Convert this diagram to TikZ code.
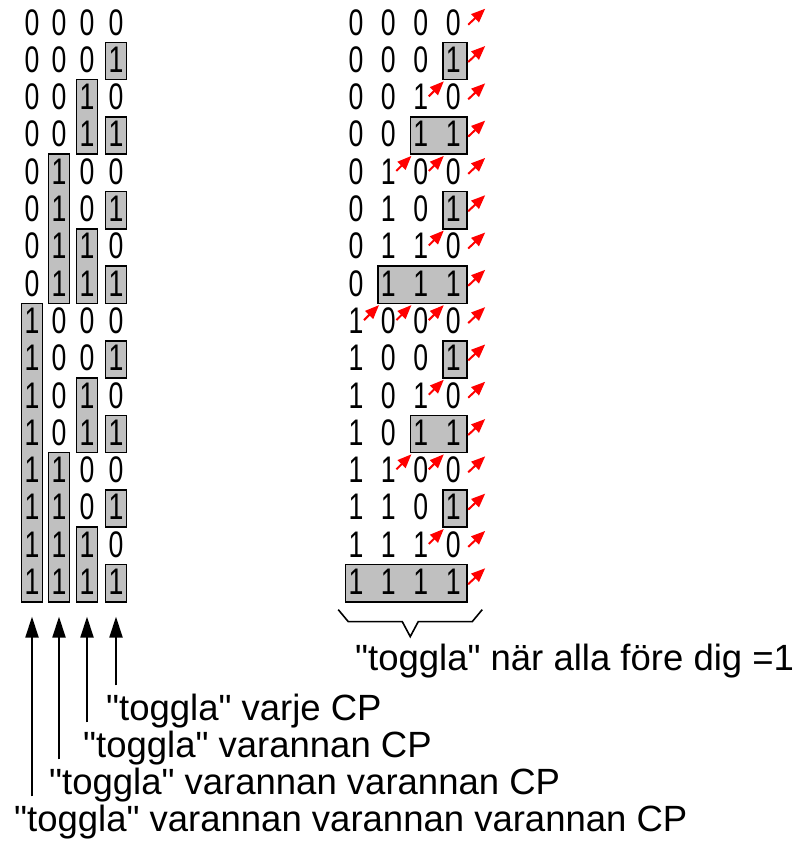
\documentclass[tikz,border=0pt]{standalone}
\usepackage{fontspec}
\setmainfont{Liberation Sans}
\newfontfamily\digitfont[FakeStretch=0.72]{Liberation Sans}
\usetikzlibrary{arrows.meta}
\definecolor{boxgray}{RGB}{192,192,192}
\definecolor{tickred}{RGB}{255,0,0}
\newcommand\tq{\textquotedbl}

\begin{document}
\begin{tikzpicture}[
    x=1pt, y=-1pt,
    bitbox/.style={
        rectangle,
        draw=black,
        line width=1.6pt,
        fill=boxgray,
        inner sep=0pt
    },
    bit/.style={
        inner sep=0pt,
        anchor=base,
        font=\digitfont\fontsize{37}{40}\selectfont
    },
    togglecap/.style={
        inner sep=0pt,
        anchor=base west,
        font=\fontsize{36.5}{40}\selectfont
    },
    upline/.style={
        -{Triangle[width=13pt,length=21pt]},
        line width=2pt
    },
    redtick/.style={
        -{Triangle[width=11pt,length=14pt]},
        line width=2pt,
        tickred
    },
    braceline/.style={
        line width=1.6pt
    }
]
\useasboundingbox (0,0) rectangle (805,847);

% Left table: boxes around the runs of ones in each column
\foreach \c/\lx/\n in {0/32/8,1/59/4,2/87/2,3/116/1}{
    \pgfmathtruncatemacro\kmax{8/\n-1}
    \pgfmathsetmacro\h{37.3*\n}
    \foreach \k in {0,...,\kmax}{
        \pgfmathsetmacro\cy{5+37.3*(2*\k+1)*\n+\h/2}
        \node[bitbox, minimum width=21pt, minimum height=\h pt] (lbox-\c-\k) at (\lx,\cy) {};
    }
}

% Left table: digits
\foreach \r in {0,...,15}{
    \pgfmathsetmacro\cy{23.65+37.3*\r}
    \foreach \c/\lx in {0/32,1/59,2/87,3/116}{
        \pgfmathtruncatemacro\b{mod(floor(\r/2^(3-\c)),2)}
        \node[bit] (L-\r-\c) at (\lx,\cy+11.35) {\b};
    }
}

% Right table: boxes around the trailing ones
\foreach \r/\t in {1/1,3/2,5/1,7/3,9/1,11/2,13/1,15/4}{
    \pgfmathsetmacro\xl{356+32.4*(4-\t)-10.5}
    \pgfmathsetmacro\w{467-\xl}
    \pgfmathsetmacro\cy{23.65+37.3*\r}
    \node[bitbox, minimum width=\w pt, minimum height=37.3pt] (rbox-\r) at ({(467+\xl)/2},\cy) {};
}

% Right table: digits and red toggle marks
\foreach \r in {0,...,15}{
    \pgfmathsetmacro\cy{23.65+37.3*\r}
    \foreach \c in {0,...,3}{
        \pgfmathsetmacro\rx{356+32.4*\c}
        \pgfmathtruncatemacro\b{mod(floor(\r/2^(3-\c)),2)}
        \node[bit] (R-\r-\c) at (\rx,\cy+11.35) {\b};
        \pgfmathtruncatemacro\n{2^(3-\c)}
        \pgfmathtruncatemacro\hit{(mod(\r,\n)==0) && ((\r>0) || (\c==3))}
        \ifnum\hit=1
            \ifnum\c=3
                \draw[redtick] ([shift={(15,-10.3)}]R-\r-\c.base) -- ++(17,-16);
            \else
                \draw[redtick] ([shift={(8,-13.3)}]R-\r-\c.base) -- ++(15,-15);
            \fi
        \fi
    }
}

% Brace under the last row
\draw[braceline] ([shift={(-68,7)}]rbox-15.south) -- ++(10,12) -- ++(54,0)
    -- ++(8,15) -- ++(8,-15) -- ++(54,0) -- ++(10,-12);

\node[togglecap] (note) at (355,670) {\tq toggla\tq\ när alla före dig =1};

% Captions under the left table
\node[togglecap] (cap3) at (106,720) {\tq toggla\tq\ varje CP};
\node[togglecap] (cap2) at (83,757) {\tq toggla\tq\ varannan CP};
\node[togglecap] (cap1) at (49,794) {\tq toggla\tq\ varannan varannan CP};
\node[togglecap] (cap0) at (14,831) {\tq toggla\tq\ varannan varannan varannan CP};

\draw[upline, shorten <=8pt, shorten >=14pt] (cap3.north -| lbox-3-7) -- (lbox-3-7.south);
\draw[upline, shorten <=8pt, shorten >=14pt] (cap2.north -| lbox-2-3) -- (lbox-2-3.south);
\draw[upline, shorten <=8pt, shorten >=14pt] (cap1.north -| lbox-1-1) -- (lbox-1-1.south);
\draw[upline, shorten <=8pt, shorten >=14pt] (cap0.north -| lbox-0-0) -- (lbox-0-0.south);

\end{tikzpicture}
\end{document}
